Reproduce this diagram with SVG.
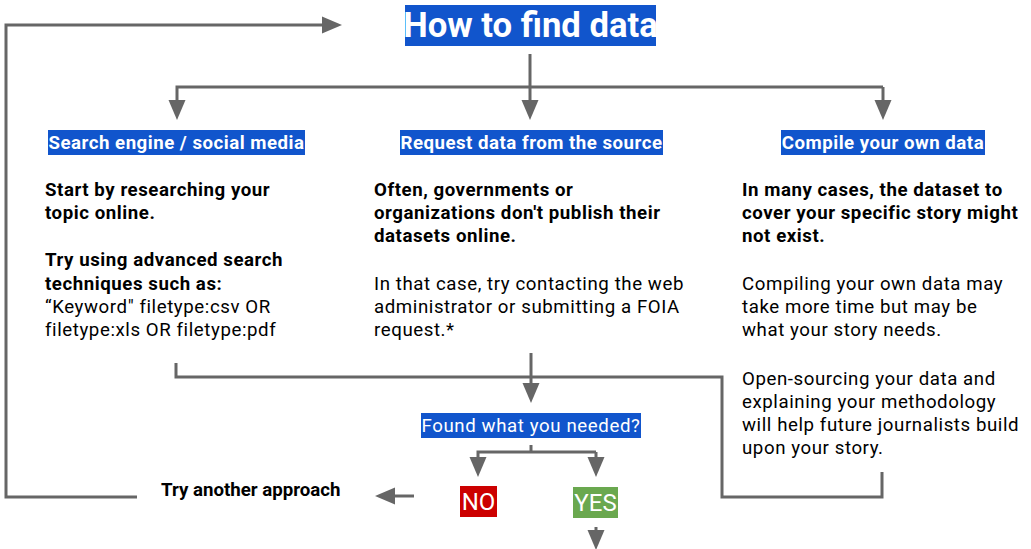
<svg xmlns="http://www.w3.org/2000/svg" width="1031" height="549" viewBox="0 0 1031 549">
<style>
.ln{fill:none;stroke:#666666;stroke-width:3}
.ar{fill:none;stroke:#666666;stroke-width:3;marker-end:url(#ah)}
.bx{fill:#1155cc}
.hd{font-family:Roboto,"Liberation Sans",sans-serif;font-weight:bold;font-size:18.67px;fill:#ffffff;letter-spacing:0.5px}
.b{font-family:Roboto,"Liberation Sans",sans-serif;font-weight:bold;font-size:18.67px;fill:#000000;letter-spacing:0.55px}
.r{font-family:Roboto,"Liberation Sans",sans-serif;font-size:18.67px;fill:#000000;letter-spacing:0.58px}
.w{font-family:Roboto,"Liberation Sans",sans-serif;fill:#ffffff}
</style>
<defs>
<marker id="ah" markerUnits="userSpaceOnUse" markerWidth="20" markerHeight="17" refX="0" refY="8.5" orient="auto" overflow="visible">
<path d="M0,0 L20,8.5 L0,17 z" fill="#666666"/>
</marker>
</defs>
<rect width="1031" height="549" fill="#ffffff"/>
<g id="connectors">
<path class="ar" d="M137,497 H6 V25 H322"/>
<path class="ar" d="M530,54 V100"/>
<path class="ar" d="M883,87 H177 V100"/>
<path class="ar" d="M883,87 V100"/>
<path class="ln" d="M176,363 V377 H722 V497 H882 V472"/>
<path class="ar" d="M531,353 V383"/>
<path class="ln" d="M531,445 V452"/>
<path class="ar" d="M596,452 H478 V457"/>
<path class="ar" d="M596,452 V457"/>
<path class="ar" d="M414,496 H395"/>
<path class="ar" d="M596,527 V530"/>
</g>
<g id="title">
<rect class="bx" x="405" y="5" width="251" height="41"/>
<text class="w" x="530.5" y="37" text-anchor="middle" font-weight="bold" font-size="34.67px">How to find data</text>
</g>
<g id="search">
<rect class="bx" x="48" y="130" width="257" height="25"/>
<text class="hd" x="176.5" y="149" text-anchor="middle">Search engine / social media</text>
<text class="b" x="45" y="196">Start by researching your</text>
<text class="b" x="45" y="219">topic online.</text>
<text class="b" x="45" y="266">Try using advanced search</text>
<text class="b" x="45" y="290">techniques such as:</text>
<text class="r" x="45" y="313">“Keyword" filetype:csv OR</text>
<text class="r" x="45" y="336">filetype:xls OR filetype:pdf</text>
</g>
<g id="request">
<rect class="bx" x="400" y="130" width="263" height="25"/>
<text class="hd" x="531.5" y="149" text-anchor="middle">Request data from the source</text>
<text class="b" x="374" y="196">Often, governments or</text>
<text class="b" x="374" y="219">organizations don't publish their</text>
<text class="b" x="374" y="242">datasets online.</text>
<text class="r" x="374" y="290">In that case, try contacting the web</text>
<text class="r" x="374" y="313">administrator or submitting a FOIA</text>
<text class="r" x="374" y="336">request.*</text>
</g>
<g id="compile">
<rect class="bx" x="781" y="130" width="204" height="25"/>
<text class="hd" x="883" y="149" text-anchor="middle">Compile your own data</text>
<text class="b" x="742" y="196">In many cases, the dataset to</text>
<text class="b" x="742" y="219">cover your specific story might</text>
<text class="b" x="742" y="242">not exist.</text>
<text class="r" x="742" y="290">Compiling your own data may</text>
<text class="r" x="742" y="313">take more time but may be</text>
<text class="r" x="742" y="336">what your story needs.</text>
<text class="r" x="742" y="385">Open-sourcing your data and</text>
<text class="r" x="742" y="408">explaining your methodology</text>
<text class="r" x="742" y="431">will help future journalists build</text>
<text class="r" x="742" y="454">upon your story.</text>
</g>
<g id="found">
<rect class="bx" x="421" y="413" width="220" height="25"/>
<text class="w" x="531" y="432" text-anchor="middle" font-size="18.67px" letter-spacing="0.6px">Found what you needed?</text>
</g>
<g id="no">
<rect x="460" y="486" width="37" height="31" fill="#cc0000"/>
<text class="w" x="478.5" y="510" text-anchor="middle" font-size="24px">NO</text>
</g>
<g id="yes">
<rect x="573" y="487" width="45" height="31" fill="#6aa84f"/>
<text class="w" x="595.5" y="511" text-anchor="middle" font-size="24px">YES</text>
</g>
<g id="another">
<text class="b" x="161" y="496" style="letter-spacing:0px">Try another approach</text>
</g>
</svg>
